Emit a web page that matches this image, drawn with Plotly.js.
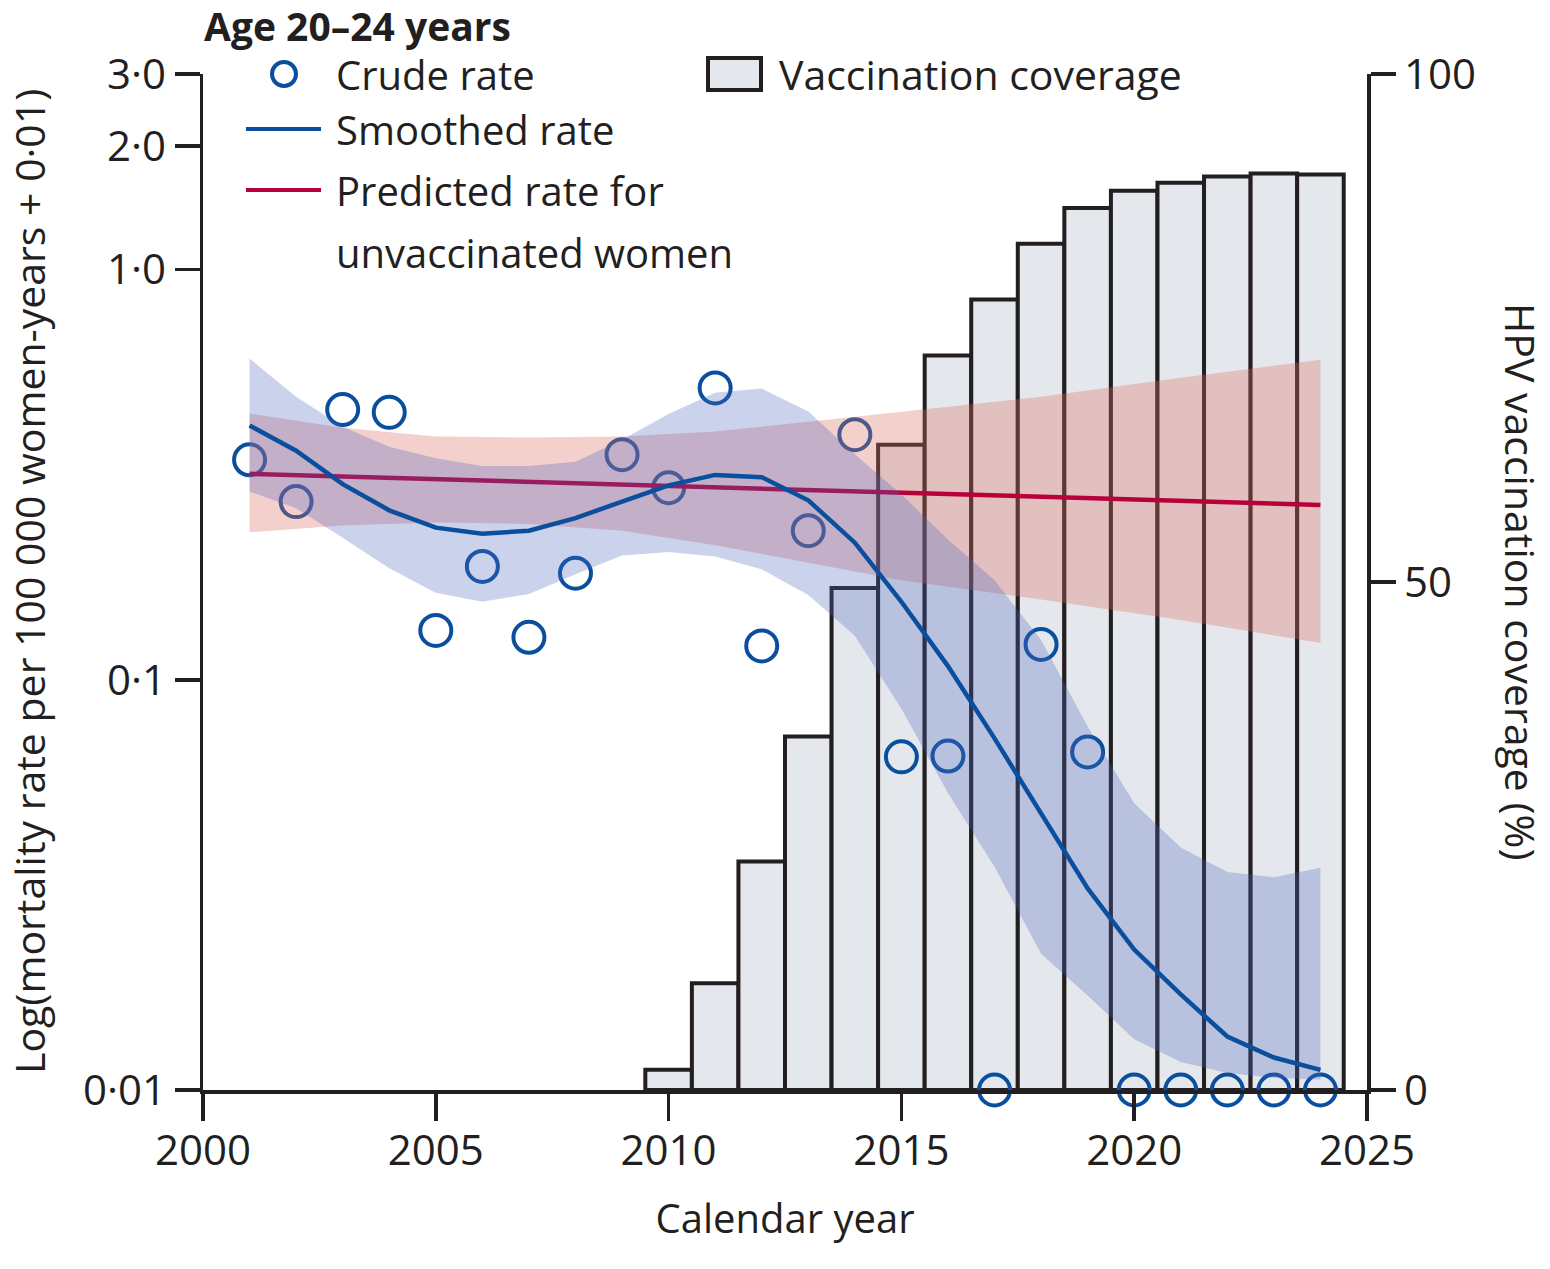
<!DOCTYPE html>
<html lang="en">
<head>
    <meta charset="UTF-8">
    <title>HPV vaccination and mortality, age 20-24</title>
    <script src="https://cdn.plot.ly/plotly-3.0.1.min.js"></script>
    <style>
        html, body { margin: 0; padding: 0; background: #fff; }
        #chart { width: 1550px; height: 1269px; }
    </style>
</head>
<body>

<div id="chart"></div>

<script>
    // values as read on the log axis, i.e. rate per 100 000 women-years + 0·01
    let years = [2001, 2002, 2003, 2004, 2005, 2006, 2007, 2008, 2009, 2010, 2011, 2012,
                 2013, 2014, 2015, 2016, 2017, 2018, 2019, 2020, 2021, 2022, 2023, 2024];

    let crudeRate = [0.344, 0.272, 0.456, 0.449, 0.132, 0.189, 0.127, 0.182, 0.354, 0.294, 0.515, 0.121,
                     0.231, 0.396, 0.0649, 0.0652, 0.01, 0.122, 0.0667, 0.01, 0.01, 0.01, 0.01, 0.01];

    let smoothRate = [0.417, 0.362, 0.300, 0.259, 0.235, 0.227, 0.231, 0.248, 0.272, 0.298, 0.316, 0.312,
                      0.274, 0.216, 0.155, 0.108, 0.072, 0.047, 0.031, 0.022, 0.0171, 0.0135, 0.0120, 0.0112];
    let smoothUpper = [0.607, 0.490, 0.414, 0.370, 0.347, 0.332, 0.332, 0.340, 0.385, 0.445, 0.501, 0.513,
                       0.451, 0.355, 0.283, 0.220, 0.175, 0.125, 0.077, 0.050, 0.039, 0.034, 0.033, 0.0348];
    let smoothLower = [0.288, 0.262, 0.222, 0.187, 0.163, 0.155, 0.162, 0.181, 0.201, 0.205, 0.200, 0.186,
                       0.161, 0.128, 0.085, 0.053, 0.035, 0.0215, 0.017, 0.0133, 0.0117, 0.0110, 0.0107, 0.0106];

    let predYears = [2001, 2012, 2024];
    let predRate = [0.318, 0.292, 0.267];

    let predBandYears = [2001, 2003, 2005, 2007, 2009, 2011, 2013, 2015, 2018, 2021, 2024];
    let predUpper = [0.446, 0.412, 0.392, 0.390, 0.392, 0.403, 0.426, 0.451, 0.490, 0.545, 0.603];
    let predLower = [0.229, 0.238, 0.242, 0.240, 0.231, 0.213, 0.193, 0.175, 0.157, 0.140, 0.123];

    let coverageYears = [2010, 2011, 2012, 2013, 2014, 2015, 2016, 2017, 2018, 2019, 2020, 2021, 2022, 2023, 2024];
    let coverage = [2.0, 10.5, 22.5, 34.8, 49.4, 63.5, 72.3, 77.8, 83.3, 86.8, 88.5, 89.3, 89.9, 90.2, 90.1];

    let logTickVals = [0.01, 0.1, 1, 2, 3];
    let logTickText = ['0·01', '0·1', '1·0', '2·0', '3·0'];
    let xTickVals = [2000, 2005, 2010, 2015, 2020, 2025];
    let covTickVals = [0, 50, 100];

    const INK = '#231f20';
    const BLUE = '#0a4f9e';
    const RED = '#b8003a';

    // closed polygon: upper edge forward, lower edge back
    function band(xs, up, low) {
        return {
            x: xs.concat(xs.slice().reverse()),
            y: up.concat(low.slice().reverse())
        };
    }

    let predBand = band(predBandYears, predUpper, predLower);
    let smoothBand = band(years, smoothUpper, smoothLower);

    let bars = {
        x: coverageYears, y: coverage, type: 'bar', width: 1,
        xaxis: 'x', yaxis: 'y',
        marker: {color: '#e4e8ec', line: {color: INK, width: 4}},
        hoverinfo: 'x+y'
    };

    let crude = {
        x: years, y: crudeRate, type: 'scatter', mode: 'markers', yaxis: 'y2',
        cliponaxis: false,
        marker: {symbol: 'circle-open', size: 31, color: BLUE, line: {width: 4}}
    };

    let predFill = {
        x: predBand.x, y: predBand.y, type: 'scatter', mode: 'lines', yaxis: 'y2',
        fill: 'toself', fillcolor: 'rgba(220,110,95,0.32)', line: {width: 0}, hoverinfo: 'skip'
    };

    let predLine = {
        x: predYears, y: predRate, type: 'scatter', mode: 'lines', yaxis: 'y2',
        line: {color: RED, width: 4.5}
    };

    let smoothFill = {
        x: smoothBand.x, y: smoothBand.y, type: 'scatter', mode: 'lines', yaxis: 'y2',
        fill: 'toself', fillcolor: 'rgba(75,100,190,0.29)', line: {width: 0}, hoverinfo: 'skip'
    };

    let smoothLine = {
        x: years, y: smoothRate, type: 'scatter', mode: 'lines', yaxis: 'y2',
        line: {color: BLUE, width: 4.5}
    };

    // pixel helpers for the legend block (plot area 203..1367 x 74..1090)
    const L = 203, T = 74, W = 1164, H = 1016;
    function px(v) { return (v - L) / W; }
    function py(v) { return (T + H - v) / H; }

    function label(text, x, y, size) {
        return {
            text: text, xref: 'paper', yref: 'paper', x: px(x), y: py(y),
            xanchor: 'left', yanchor: 'middle', showarrow: false,
            font: {size: size || 40, color: INK}
        };
    }

    let annotations = [
        label('<b>Age 20–24 years</b>', 202, 25, 39),
        label('Crude rate', 334, 74),
        label('Smoothed rate', 334, 129),
        label('Predicted rate for', 334, 190),
        label('unvaccinated women', 334, 252),
        label('Vaccination coverage', 777, 74, 41),
        {
            text: 'Log(mortality rate per 100 000 women-years + 0·01)',
            xref: 'paper', yref: 'paper', x: px(29), y: py(582),
            xanchor: 'center', yanchor: 'middle', textangle: -90, showarrow: false,
            font: {size: 41, color: INK}
        },
        {
            text: 'HPV vaccination coverage (%)',
            xref: 'paper', yref: 'paper', x: px(1521), y: py(582),
            xanchor: 'center', yanchor: 'middle', textangle: 90, showarrow: false,
            font: {size: 41, color: INK}
        }
    ];

    let shapes = [
        {
            type: 'circle', xref: 'paper', yref: 'paper',
            xsizemode: 'pixel', ysizemode: 'pixel', xanchor: px(284), yanchor: py(74),
            x0: -12, x1: 12, y0: -12, y1: 12,
            line: {color: BLUE, width: 4}
        },
        {type: 'line', xref: 'paper', yref: 'paper', x0: px(246), x1: px(321), y0: py(129), y1: py(129),
            line: {color: BLUE, width: 4}},
        {type: 'line', xref: 'paper', yref: 'paper', x0: px(246), x1: px(321), y0: py(190), y1: py(190),
            line: {color: RED, width: 4}},
        {type: 'rect', xref: 'paper', yref: 'paper', x0: px(708), x1: px(761), y0: py(90), y1: py(58),
            fillcolor: '#e4e8ec', line: {color: INK, width: 4}}
    ];

    let axisStyle = {
        showline: true, linewidth: 3.5, linecolor: INK,
        ticks: 'outside', ticklen: 25, tickwidth: 3.5, tickcolor: INK,
        showgrid: false, zeroline: false,
        tickfont: {size: 42, color: INK}
    };

    let layout = {
        width: 1550, height: 1269,
        margin: {l: L, r: 1550 - L - W, t: T, b: 1269 - T - H},
        paper_bgcolor: '#fff', plot_bgcolor: '#fff',
        font: {family: '"Open Sans", "Noto Sans", sans-serif', color: INK},
        showlegend: false,
        bargap: 0,
        xaxis: Object.assign({}, axisStyle, {
            range: [2000, 2025], tickvals: xTickVals, ticklen: 27, ticklabelstandoff: -6,
            title: {text: 'Calendar year', font: {size: 40, color: INK}, standoff: 30}
        }),
        yaxis: Object.assign({}, axisStyle, {
            side: 'right', range: [0, 100], tickvals: covTickVals
        }),
        yaxis2: Object.assign({}, axisStyle, {
            overlaying: 'y', side: 'left', type: 'log',
            range: [-2, Math.log10(3)], tickvals: logTickVals, ticktext: logTickText
        }),
        annotations: annotations,
        shapes: shapes
    };

    Plotly.newPlot('chart', [bars, crude, predFill, predLine, smoothFill, smoothLine], layout,
        {displayModeBar: false, staticPlot: true});
</script>

</body>
</html>
